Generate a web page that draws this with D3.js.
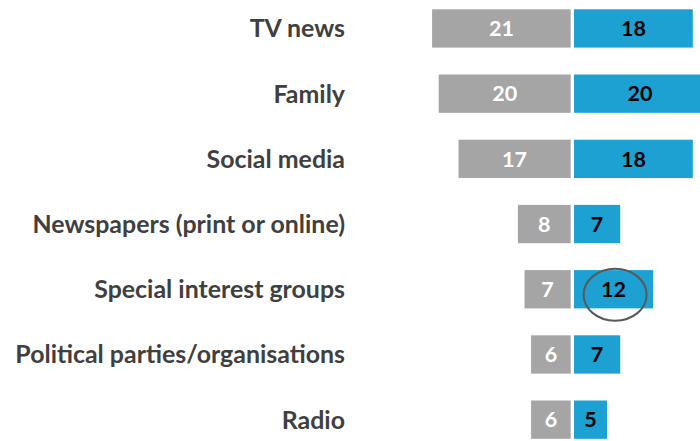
<!DOCTYPE html>
<html>
<head>
<meta charset="utf-8">
<script src="https://cdn.jsdelivr.net/npm/d3@7"></script>
<style>
  html, body { margin: 0; padding: 0; background: #fff; overflow: hidden; }
  svg { display: block; }
</style>
</head>
<body>
<svg id="chart" width="700" height="441"></svg>
<script>
const categories = ["TV news", "Family", "Social media", "Newspapers (print or online)", "Special interest groups", "Political parties/organisations", "Radio"];
const grayValues = [21, 20, 17, 8, 7, 6, 6];
const blueValues = [18, 20, 18, 7, 12, 7, 5];
const highlighted = "Special interest groups";

const svg = d3.select("#chart");
const centerX = 572.35, gap = 1.65;
const labelRight = 345;

const x = d3.scaleLinear().domain([0, 21]).range([0, 138.6]);
const y = d3.scaleBand().domain(categories).range([9.3, 438.8]).paddingInner(0.4126).paddingOuter(0);

const fontFam = "Lato, 'Open Sans', sans-serif";

// category labels
const labels = svg.append("g").selectAll("text").data(categories).join("text")
  .attr("x", labelRight)
  .attr("y", d => y(d) + y.bandwidth() / 2)
  .attr("dy", "0.36em")
  .attr("text-anchor", "end")
  .attr("font-family", fontFam)
  .attr("font-weight", 700)
  .attr("font-size", 22)
  .attr("fill", "#404040")
  .text(d => d);
let maxW = 0;
labels.each(function() { maxW = Math.max(maxW, this.getComputedTextLength()); });
labels.attr("font-size", 22 * 330 / maxW);

const gData = categories.map((c, i) => ({c, v: grayValues[i]}));
const bData = categories.map((c, i) => ({c, v: blueValues[i]}));

svg.append("g").selectAll("rect").data(gData).join("rect")
  .attr("x", d => centerX - gap - x(d.v))
  .attr("y", d => y(d.c))
  .attr("width", d => x(d.v))
  .attr("height", y.bandwidth())
  .attr("fill", "#A5A5A5");

svg.append("g").selectAll("rect").data(bData).join("rect")
  .attr("x", centerX + gap)
  .attr("y", d => y(d.c))
  .attr("width", d => x(d.v))
  .attr("height", y.bandwidth())
  .attr("fill", "#1DA0D2");

const valFs = 21.5;
svg.append("g").selectAll("text").data(gData).join("text")
  .attr("x", d => centerX - gap - x(d.v) / 2)
  .attr("y", d => y(d.c) + y.bandwidth() / 2)
  .attr("dy", "0.36em")
  .attr("text-anchor", "middle")
  .attr("font-family", fontFam)
  .attr("font-weight", 700)
  .attr("font-size", valFs)
  .attr("fill", "#ffffff")
  .text(d => d.v);

svg.append("g").selectAll("text").data(bData).join("text")
  .attr("x", d => centerX + gap + x(d.v) / 2)
  .attr("y", d => y(d.c) + y.bandwidth() / 2)
  .attr("dy", "0.36em")
  .attr("text-anchor", "middle")
  .attr("font-family", fontFam)
  .attr("font-weight", 700)
  .attr("font-size", valFs)
  .attr("fill", "#000000")
  .text(d => d.v);

// highlight ellipse around the highlighted blue value
const hi = bData.find(d => d.c === highlighted);
svg.append("ellipse")
  .attr("cx", centerX + gap + x(hi.v) / 2 + 1.5)
  .attr("cy", y(hi.c) + y.bandwidth() / 2 + 5.5)
  .attr("rx", 31.5)
  .attr("ry", 26)
  .attr("fill", "none")
  .attr("stroke", "#595959")
  .attr("stroke-width", 2);
</script>
</body>
</html>
